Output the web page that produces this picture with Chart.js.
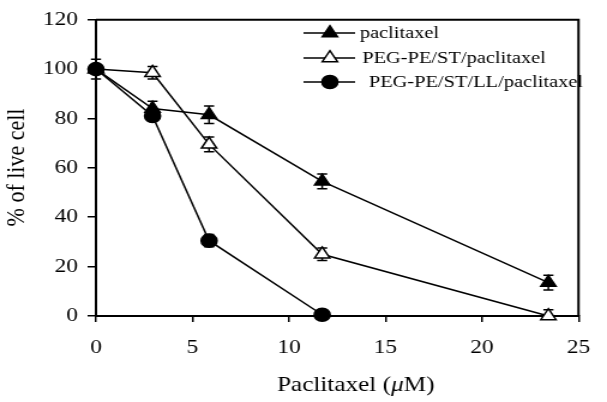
<!DOCTYPE html>
<html>
<head>
    <meta charset="utf-8">
    <script src="https://cdn.jsdelivr.net/npm/chart.js"></script>
    <title>% of live cell</title>
    <style type="text/css">
        html, body {
            margin: 0;
            padding: 0;
            background: #ffffff;
        }
    </style>
    <script type="text/javascript">
        // doses (uM)
        var doses = [0, 2.93, 5.86, 11.72, 23.44];
        var dosesLL = [0, 2.93, 5.86, 11.72];

        // % of live cell
        var paclitaxel = [100, 84, 81.5, 54.5, 13.5];
        var paclitaxelErr = [1.5, 3, 3.5, 3, 3];
        var pegPeSt = [100, 98.5, 69.5, 25, 0];
        var pegPeStErr = [4, 2.5, 3, 2.5, 2.5];
        var pegPeStLL = [100, 81, 30.5, 0.5];
        var pegPeStLLErr = [1, 2, 2.5, 1];

        var seriesNames = ['paclitaxel', 'PEG-PE/ST/paclitaxel', 'PEG-PE/ST/LL/paclitaxel'];
        var xTicks = [0, 5, 10, 15, 20, 25];
        var yTicks = [0, 20, 40, 60, 80, 100, 120];
    </script>
</head>
<body>
    <!-- the original figure is stretched sideways, so the canvas is drawn narrower and scaled up -->
    <canvas id="myChart" width="506" height="402" style="width:607px;height:402px;display:block"></canvas>

    <script>
        var serif = '"Liberation Serif", "Times New Roman", serif';

        function toPoints(xs, ys) {
            var pts = [];
            for (var i = 0; i < xs.length; i++) pts.push({ x: xs[i], y: ys[i] });
            return pts;
        }

        function makeSet(label, xs, ys, errs, style, fill, radius) {
            return {
                label: label,
                data: toPoints(xs, ys),
                errors: errs,
                showLine: true,
                borderColor: '#000',
                borderWidth: 1.5,
                pointStyle: style,
                pointRadius: radius,
                pointHoverRadius: radius,
                pointBackgroundColor: fill,
                pointBorderColor: '#000',
                pointBorderWidth: 1.5,
                clip: false
            };
        }

        var datasets = [
            makeSet(seriesNames[0], doses, paclitaxel, paclitaxelErr, 'triangle', '#000', 7.3),
            makeSet(seriesNames[1], doses, pegPeSt, pegPeStErr, 'triangle', '#fff', 7.3),
            makeSet(seriesNames[2], dosesLL, pegPeStLL, pegPeStLLErr, 'circle', '#000', 6.6)
        ];

        function marker(ctx, style, fill, r, x, y) {
            ctx.save();
            ctx.fillStyle = fill;
            ctx.strokeStyle = '#000';
            ctx.lineWidth = 1.5;
            ctx.beginPath();
            if (style === 'circle') {
                ctx.arc(x, y, r, 0, Math.PI * 2);
            } else {
                var a = 0;
                ctx.moveTo(x + Math.sin(a) * r, y - Math.cos(a) * r);
                a += Math.PI * 2 / 3;
                ctx.lineTo(x + Math.sin(a) * r, y - Math.cos(a) * r);
                a += Math.PI * 2 / 3;
                ctx.lineTo(x + Math.sin(a) * r, y - Math.cos(a) * r);
                ctx.closePath();
            }
            ctx.fill();
            ctx.stroke();
            ctx.restore();
        }

        // error bars, drawn under the markers
        var errorBars = {
            id: 'errorBars',
            beforeDatasetsDraw: function (chart) {
                var ctx = chart.ctx;
                var xs = chart.scales.x, ys = chart.scales.y;
                ctx.save();
                ctx.strokeStyle = '#000';
                ctx.lineWidth = 1.5;
                chart.data.datasets.forEach(function (ds) {
                    ds.data.forEach(function (p, i) {
                        var e = ds.errors[i];
                        var px = xs.getPixelForValue(p.x);
                        var top = ys.getPixelForValue(p.y + e);
                        var bot = ys.getPixelForValue(Math.max(p.y - e, 0));
                        ctx.beginPath();
                        ctx.moveTo(px, top);
                        ctx.lineTo(px, bot);
                        ctx.moveTo(px - 4.2, top);
                        ctx.lineTo(px + 4.2, top);
                        if (p.y - e > 0) {
                            ctx.moveTo(px - 4.2, bot);
                            ctx.lineTo(px + 4.2, bot);
                        }
                        ctx.stroke();
                    });
                });
                ctx.restore();
            }
        };

        // frame, legend and axis titles
        var extras = {
            id: 'extras',
            afterDraw: function (chart) {
                var ctx = chart.ctx;
                var a = chart.chartArea;
                ctx.save();
                ctx.strokeStyle = '#000';
                ctx.lineWidth = 2;
                ctx.beginPath();
                ctx.moveTo(a.left, a.top);
                ctx.lineTo(a.right, a.top);
                ctx.lineTo(a.right, a.bottom);
                ctx.stroke();

                // legend
                var rows = [33, 58, 82];
                var textX = [300, 302, 307.5];
                ctx.font = '17px ' + serif;
                ctx.fillStyle = '#000';
                ctx.textBaseline = 'middle';
                ctx.textAlign = 'left';
                chart.data.datasets.forEach(function (ds, i) {
                    ctx.lineWidth = 1.5;
                    ctx.beginPath();
                    ctx.moveTo(253, rows[i]);
                    ctx.lineTo(296, rows[i]);
                    ctx.stroke();
                    marker(ctx, ds.pointStyle, ds.pointBackgroundColor, ds.pointRadius, 275, rows[i]);
                    ctx.fillText(ds.label, textX[i], rows[i] + 1);
                });

                // x title with italic mu
                var f1 = '21px ' + serif, f2 = 'italic 21px ' + serif;
                var parts = [['Paclitaxel (', f1], ['\u03bc', f2], ['M)', f1]];
                var w = 0;
                parts.forEach(function (p) { ctx.font = p[1]; w += ctx.measureText(p[0]).width; });
                var x = 296.5 - w / 2;
                ctx.textBaseline = 'alphabetic';
                parts.forEach(function (p) {
                    ctx.font = p[1];
                    ctx.fillText(p[0], x, 391);
                    x += ctx.measureText(p[0]).width;
                });

                // y title
                ctx.translate(13.8, 167.5);
                ctx.rotate(-Math.PI / 2);
                ctx.font = '22px ' + serif;
                ctx.textAlign = 'center';
                ctx.textBaseline = 'middle';
                ctx.fillText('% of live cell', 0, 0);
                ctx.restore();
            }
        };

        var ctx = document.getElementById('myChart').getContext('2d');
        var myChart = new Chart(ctx, {
            type: 'scatter',
            data: { datasets: datasets },
            options: {
                responsive: false,
                animation: false,
                devicePixelRatio: 1,
                layout: { padding: { top: 12, right: 14, left: 0, bottom: 0 } },
                plugins: {
                    legend: { display: false },
                    tooltip: { enabled: false }
                },
                scales: {
                    x: {
                        type: 'linear',
                        min: 0,
                        max: 25,
                        afterFit: function (s) { s.height = 86; },
                        afterBuildTicks: function (s) {
                            s.ticks = xTicks.map(function (v) { return { value: v }; });
                        },
                        border: { color: '#000', width: 2 },
                        grid: { drawOnChartArea: false, color: '#000', lineWidth: 1.5, tickLength: 6 },
                        ticks: { color: '#000', padding: 14, maxRotation: 0, font: { family: serif, size: 19.5 } }
                    },
                    y: {
                        min: 0,
                        max: 120,
                        afterFit: function (s) { s.width = 80; },
                        afterBuildTicks: function (s) {
                            s.ticks = yTicks.map(function (v) { return { value: v }; });
                        },
                        border: { color: '#000', width: 2 },
                        grid: { drawOnChartArea: false, color: '#000', lineWidth: 1.5, tickLength: 7 },
                        ticks: { color: '#000', padding: 8, font: { family: serif, size: 19.5 } }
                    }
                }
            },
            plugins: [errorBars, extras]
        });
    </script>
</body>
</html>
